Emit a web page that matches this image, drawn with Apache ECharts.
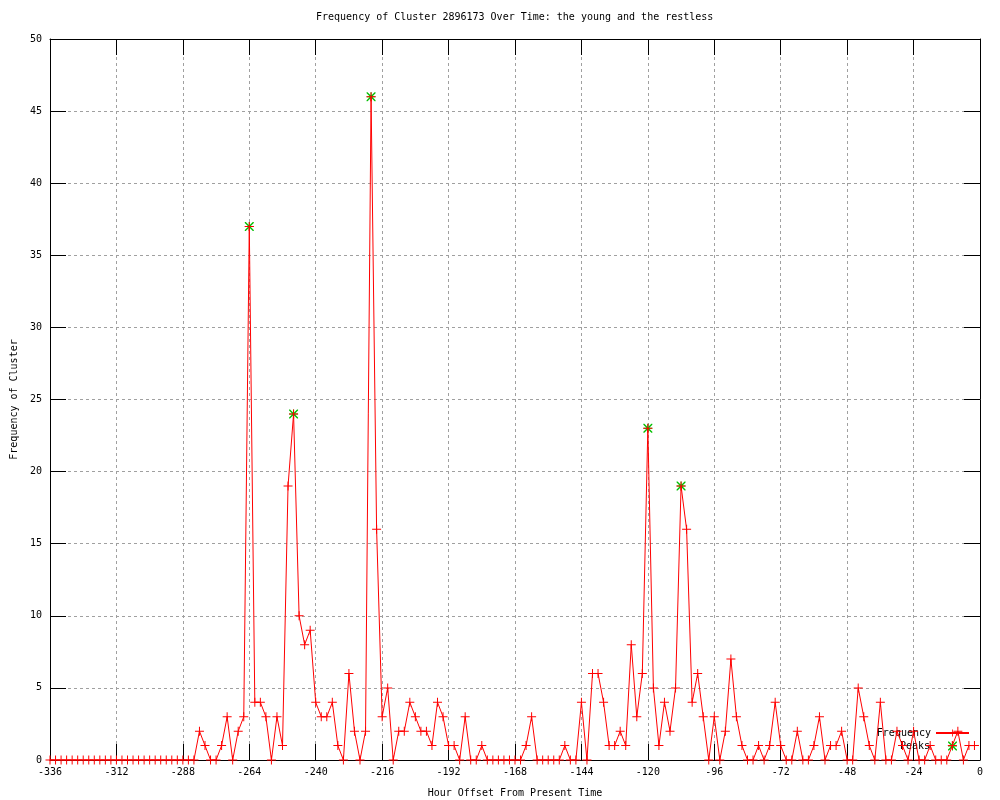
<!DOCTYPE html>
<html>
<head>
<meta charset="utf-8">
<script src="https://cdn.jsdelivr.net/npm/echarts@6/dist/echarts.min.js"></script>
<style>
  html, body { margin: 0; padding: 0; background: #ffffff; }
  #chart { width: 1000px; height: 800px; }
</style>
</head>
<body>
<div id="chart"></div>
<script>
// ---- data ----
const TITLE = 'Frequency of Cluster 2896173 Over Time: the young and the restless';
const X_NAME = 'Hour Offset From Present Time';
const Y_NAME = 'Frequency of Cluster';
const HOUR_START = -336;   // first sample hour
const HOUR_STEP = 2;       // samples every 2 hours
const frequency = [
  0,0,0,0,0,0,0,0,0,0, 0,0,0,0,0,0,0,0,0,0,
  0,0,0,0,0,0,0,2,1,0, 0,1,3,0,2,3,37,4,4,3,
  0,3,1,19,24,10,8,9,4,3, 3,4,1,0,6,2,0,2,46,16,
  3,5,0,2,2,4,3,2,2,1, 4,3,1,1,0,3,0,0,1,0,
  0,0,0,0,0,0,1,3,0,0, 0,0,0,1,0,0,4,0,6,6,
  4,1,1,2,1,8,3,6,23,5, 1,4,2,5,19,16,4,6,3,0,
  3,0,2,7,3,1,0,0,1,0, 1,4,1,0,0,2,0,0,1,3,
  0,1,1,2,0,0,5,3,1,0, 4,0,0,2,1,0,2,0,0,1,
  0,0,0,1,2,0,1,1
];
const peakHours = [-264, -248, -220, -120, -108];
const peakValues = [37, 24, 46, 23, 19];
const xTickInterval = 24;
const yTickInterval = 5;

// ---- build ----
const freqData = frequency.map((v, i) => [HOUR_START + i * HOUR_STEP, v]);
const peakData = peakHours.map((h, i) => [h, peakValues[i]]);

const FONT = 'DejaVu Sans Mono';
const PLUS = 'path://M0,4L9,4L9,5L0,5Z M4,0L5,0L5,9L4,9Z';
const STAR = 'path://M0,4L9,4L9,5L0,5Z M4,0L5,0L5,9L4,9Z M0,0L1,0L9,8L9,9L8,9L0,1Z M8,0L9,0L9,1L1,9L0,9L0,8Z';

const tickStyle = { show: true, inside: true, length: 16, lineStyle: { color: '#000', width: 1 } };
const axisLine = { show: true, onZero: false, lineStyle: { color: '#000', width: 1 } };
const gridLine = { show: true, lineStyle: { color: '#a0a0a0', width: 1, type: [3, 3] } };
const labelStyle = { fontFamily: FONT, fontSize: 10, color: '#000' };

const chart = echarts.init(document.getElementById('chart'), null, { renderer: 'canvas' });
chart.setOption({
  animation: false,
  backgroundColor: '#ffffff',
  title: {
    text: TITLE,
    left: 316, top: 12, padding: 0,
    textStyle: { fontFamily: FONT, fontSize: 10, fontWeight: 'normal', color: '#000' }
  },
  grid: { left: 50, right: 20, top: 39, bottom: 40, containLabel: false, outerBoundsMode: 'none' },
  legend: [
    { data: ['Frequency'], orient: 'vertical', align: 'right', right: 30, top: 728, padding: 0,
      itemWidth: 33, itemHeight: 9, textStyle: labelStyle },
    { data: [{ name: 'Peaks', icon: STAR }], orient: 'vertical', align: 'right', right: 43, top: 741, padding: 0,
      itemWidth: 9, itemHeight: 9,
      textStyle: Object.assign({ padding: [0, 13, 0, 0] }, labelStyle) }
  ],
  xAxis: [
    {
      type: 'value', min: -336, max: 0, interval: xTickInterval, position: 'bottom',
      name: X_NAME, nameLocation: 'middle', nameGap: 28, nameTextStyle: labelStyle,
      axisLine: axisLine, axisTick: tickStyle,
      axisLabel: Object.assign({ margin: 7 }, labelStyle),
      splitLine: gridLine
    },
    {
      type: 'value', min: -336, max: 0, interval: xTickInterval, position: 'top',
      axisLine: axisLine, axisTick: tickStyle, axisLabel: { show: false }, splitLine: { show: false }
    }
  ],
  yAxis: [
    {
      type: 'value', min: 0, max: 50, interval: yTickInterval, position: 'left',
      name: Y_NAME, nameLocation: 'middle', nameGap: 31, nameRotate: 90, nameTextStyle: labelStyle,
      axisLine: axisLine, axisTick: tickStyle,
      axisLabel: Object.assign({ margin: 8 }, labelStyle),
      splitLine: gridLine
    },
    {
      type: 'value', min: 0, max: 50, interval: yTickInterval, position: 'right',
      axisLine: axisLine, axisTick: tickStyle, axisLabel: { show: false }, splitLine: { show: false }
    }
  ],
  series: [
    {
      name: 'Frequency', type: 'line', data: freqData, xAxisIndex: 0, yAxisIndex: 0,
      showAllSymbol: true, symbol: PLUS, symbolSize: 9, z: 4,
      lineStyle: { color: '#ff0000', width: 1 },
      itemStyle: { color: '#ff0000', borderWidth: 0 },
      emphasis: { disabled: true }
    },
    {
      name: 'Peaks', type: 'scatter', data: peakData, xAxisIndex: 0, yAxisIndex: 0,
      symbol: STAR, symbolSize: 9, z: 3,
      itemStyle: { color: '#00c000', borderWidth: 0, opacity: 1 },
      emphasis: { disabled: true }
    }
  ]
});
</script>
</body>
</html>
